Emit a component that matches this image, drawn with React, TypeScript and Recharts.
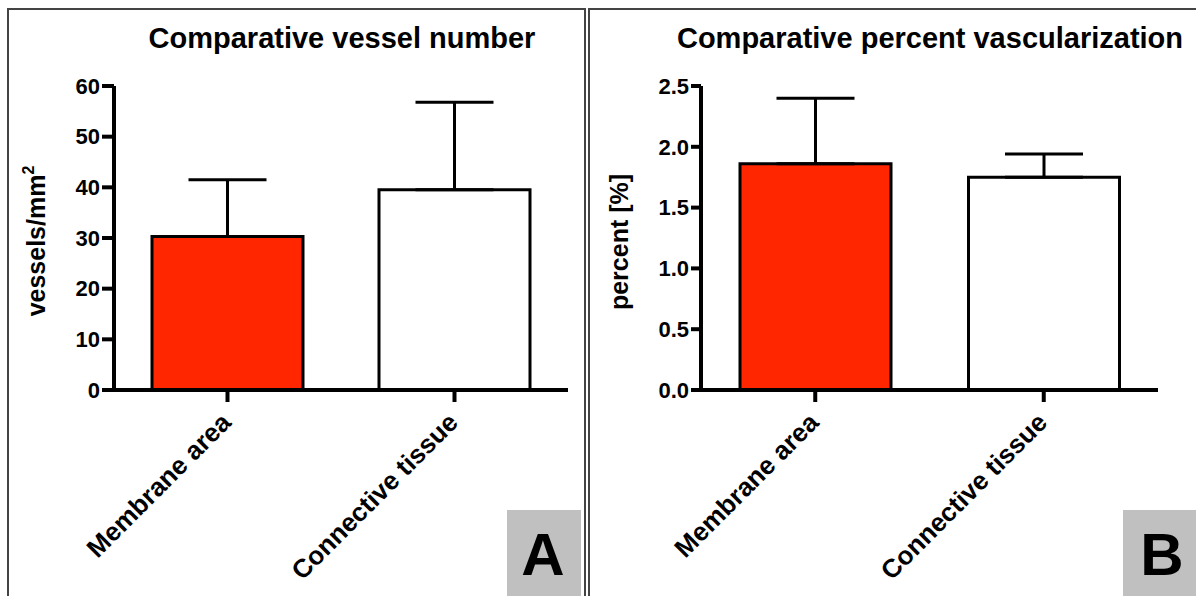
import { BarChart, Bar, XAxis, YAxis, Cell, ErrorBar } from 'recharts';

const categories = ['Membrane area', 'Connective tissue'];
const vesselMean = [30.3, 39.5];
const vesselError = [11.2, 17.3];
const vesselTicks = [0, 10, 20, 30, 40, 50, 60];
const percentMean = [1.86, 1.75];
const percentError = [0.54, 0.19];
const percentTicks = [0, 0.5, 1, 1.5, 2, 2.5];
const barFills = ['#ff2600', '#ffffff'];

const FONT = '"Liberation Sans", Arial, Helvetica, sans-serif';

// rotated category label, anchored at its end just right of the tick
const CategoryTick = (props: any) => {
  const { x, y, payload } = props;
  const ax = x + 5;
  const ay = y + 20;
  return (
    <text
      x={ax}
      y={ay}
      transform={`rotate(-45 ${ax} ${ay})`}
      textAnchor="end"
      fontFamily={FONT}
      fontWeight="bold"
      fontSize={26}
      fill="#000"
    >
      {payload.value}
    </text>
  );
};

interface PanelProps {
  left: number;
  width: number;
  axisX: number;
  plotRight: number;
  means: number[];
  errors: number[];
  ticks: number[];
  tickSize: number;
  gap: number;
  fmt?: (v: number) => string;
}

function Panel({ left, width, axisX, plotRight, means, errors, ticks, tickSize, gap, fmt }: PanelProps) {
  const data = categories.map((name, i) => ({
    name,
    value: means[i],
    err: [0, errors[i]],
  }));

  return (
    <div style={{ position: 'absolute', left, top: 0 }}>
      <BarChart
        width={width}
        height={596}
        data={data}
        margin={{ top: 86, right: width - plotRight, bottom: 56, left: 0 }}
        barCategoryGap={gap}
      >
        <XAxis
          dataKey="name"
          height={150}
          interval={0}
          tick={<CategoryTick />}
          tickSize={12}
          axisLine={{ stroke: '#000', strokeWidth: 4 }}
          tickLine={{ stroke: '#000', strokeWidth: 4 }}
        />
        <YAxis
          width={axisX}
          domain={[0, ticks[ticks.length - 1]]}
          ticks={ticks}
          interval={0}
          tickFormatter={fmt}
          tickSize={tickSize}
          tickMargin={2}
          tick={{ fill: '#000', fontSize: 22, fontWeight: 'bold', fontFamily: FONT }}
          axisLine={{ stroke: '#000', strokeWidth: 4 }}
          tickLine={{ stroke: '#000', strokeWidth: 4 }}
        />
        <Bar dataKey="value" stroke="#000" strokeWidth={3} isAnimationActive={false}>
          {data.map((_, i) => (
            <Cell key={`cell-${i}`} fill={barFills[i]} />
          ))}
          <ErrorBar dataKey="err" width={39} stroke="#000" strokeWidth={3} isAnimationActive={false} />
        </Bar>
      </BarChart>
    </div>
  );
}

export default function App() {
  const textStyle = { fontFamily: FONT, fontWeight: 'bold' as const, fill: '#000' };

  return (
    <div style={{ position: 'absolute', left: 0, top: 0, width: 1196, height: 596, background: '#fff', overflow: 'hidden' }}>
      {/* panel frames */}
      <div style={{ position: 'absolute', left: 7, top: 8, width: 575, height: 620, border: '2px solid #444' }} />
      <div style={{ position: 'absolute', left: 588, top: 8, width: 640, height: 620, border: '2px solid #444' }} />

      <Panel
        left={0}
        width={590}
        axisX={114}
        plotRight={568}
        means={vesselMean}
        errors={vesselError}
        ticks={vesselTicks}
        tickSize={12}
        gap={38}
      />
      <Panel
        left={590}
        width={606}
        axisX={111}
        plotRight={568}
        means={percentMean}
        errors={percentError}
        ticks={percentTicks}
        tickSize={10}
        gap={39}
        fmt={(v) => v.toFixed(1)}
      />

      <svg width={1196} height={596} style={{ position: 'absolute', left: 0, top: 0, pointerEvents: 'none' }}>
        <text x={342} y={48} textAnchor="middle" fontSize={29} {...textStyle}>
          Comparative vessel number
        </text>
        <text x={930} y={48} textAnchor="middle" fontSize={29} {...textStyle}>
          Comparative percent vascularization
        </text>

        <text x={45} y={241} transform="rotate(-90 45 241)" textAnchor="middle" fontSize={25} {...textStyle}>
          vessels/mm
          <tspan fontSize={16} dy={-11}>2</tspan>
        </text>
        <text x={628} y={242} transform="rotate(-90 628 242)" textAnchor="middle" fontSize={25} {...textStyle}>
          percent [%]
        </text>

        <rect x={507} y={510} width={74} height={90} fill="#c0c0c0" />
        <text x={543} y={575} textAnchor="middle" fontSize={60} {...textStyle}>
          A
        </text>
        <rect x={1123} y={510} width={80} height={90} fill="#c0c0c0" />
        <text x={1162} y={575} textAnchor="middle" fontSize={60} {...textStyle}>
          B
        </text>
      </svg>
    </div>
  );
}
